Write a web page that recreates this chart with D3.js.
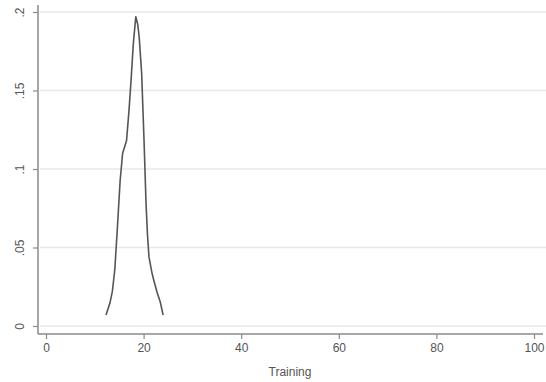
<!DOCTYPE html>
<html><head><meta charset="utf-8">
<script src="https://cdn.jsdelivr.net/npm/d3@7"></script>
<style>body{margin:0;background:#fff}svg{display:block}</style>
</head><body>
<script>
const trainingX = [12.3,13.1,13.6,14.1,14.6,15.2,15.7,16.5,17.0,17.4,17.9,18.4,18.8,19.1,19.6,20.1,20.5,20.8,21.1,21.7,22.1,22.8,23.4,24.0];
const densityY  = [0.007,0.0146,0.022,0.036,0.061,0.093,0.110,0.118,0.137,0.155,0.180,0.197,0.192,0.184,0.161,0.117,0.078,0.058,0.044,0.034,0.029,0.021,0.0155,0.007];
const xTicks = [0,20,40,60,80,100];
const yTicks = [0,0.05,0.1,0.15,0.2];
const yTickLabels = ["0",".05",".1",".15",".2"];
const xTitle = "Training";

const W=546,H=382;
const svg=d3.select("body").append("svg").attr("width",W).attr("height",H);
const x=d3.scaleLinear().domain([0,100]).range([46,534]);
const y=d3.scaleLinear().domain([0,0.2]).range([326,12]);
const font="Liberation Sans, Arial, sans-serif";
const axisCol="#8a8a8a";

svg.append("g").selectAll("line").data(yTicks).join("line")
  .attr("x1",40).attr("x2",W).attr("y1",d=>y(d)).attr("y2",d=>y(d))
  .attr("stroke","#e8e8e8").attr("stroke-width",1.5);

const ya=svg.append("g").attr("transform","translate(38,0)")
  .call(d3.axisLeft(y).tickValues(yTicks).tickSize(5).tickPadding(6).tickFormat((d,i)=>yTickLabels[i]));
ya.select(".domain").attr("d","M0,5V334").attr("stroke",axisCol).attr("stroke-width",1.5);
ya.selectAll(".tick line").attr("stroke",axisCol).attr("stroke-width",1.2);
ya.selectAll(".tick text").attr("font-family",font).attr("font-size",12).attr("fill","#555")
  .attr("text-anchor","middle").attr("x",0).attr("dy",0)
  .attr("transform","translate(-18,0) rotate(-90)").attr("y",4);

const xa=svg.append("g").attr("transform","translate(0,334)")
  .call(d3.axisBottom(x).tickValues(xTicks).tickSize(5).tickPadding(4));
xa.select(".domain").attr("d","M38,0H543").attr("stroke",axisCol).attr("stroke-width",1.5);
xa.selectAll(".tick line").attr("stroke",axisCol).attr("stroke-width",1.2);
xa.selectAll(".tick text").attr("font-family",font).attr("font-size",12).attr("fill","#555");

svg.append("text").attr("x",290).attr("y",376).attr("text-anchor","middle")
  .attr("font-family",font).attr("font-size",12).attr("fill","#555").text(xTitle);

const pts=trainingX.map((d,i)=>[d,densityY[i]]);
svg.append("path").datum(pts)
  .attr("d",d3.line().x(d=>x(d[0])).y(d=>y(d[1])))
  .attr("fill","none").attr("stroke","#555").attr("stroke-width",1.6).attr("stroke-linejoin","round");
</script>
</body></html>
